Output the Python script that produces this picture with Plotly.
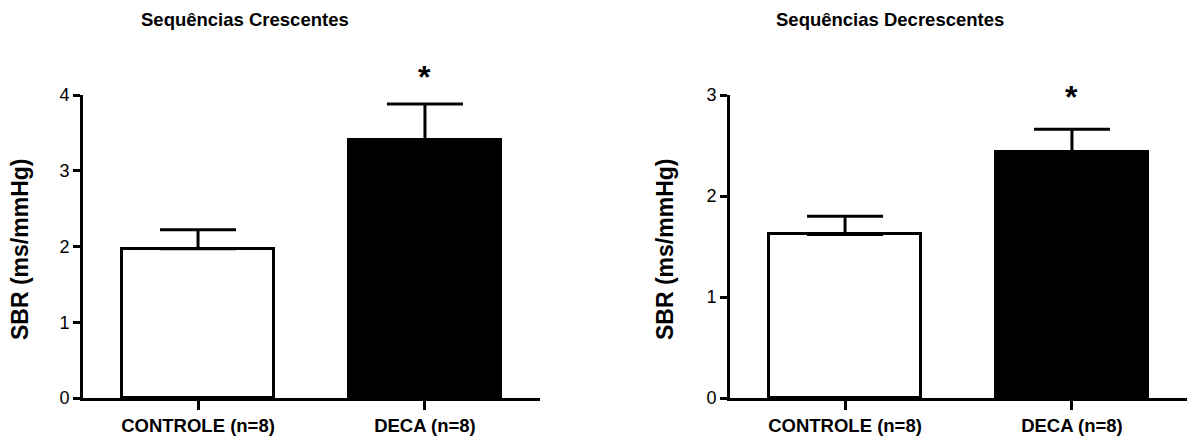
import plotly.graph_objects as go

W, H = 1187, 448

categories = ["CONTROLE (n=8)", "DECA (n=8)"]
cresc_means = [1.97, 3.40]
cresc_sem = [0.25, 0.48]
decresc_means = [1.62, 2.44]
decresc_sem = [0.18, 0.22]
bar_colors = ["white", "black"]
titles = ["Sequências Crescentes", "Sequências Decrescentes"]
y_title = "SBR (ms/mmHg)"
cresc_ticks = [0, 1, 2, 3, 4]
decresc_ticks = [0, 1, 2, 3]
star_label = "*"

FONT = "Arial, 'Liberation Sans', sans-serif"

fig = go.Figure()
x_idx = [0, 1]

fig.add_trace(go.Bar(
    x=x_idx, y=cresc_means, width=0.67,
    marker=dict(color=bar_colors, line=dict(color="black", width=3)),
    error_y=dict(type="data", symmetric=False, array=cresc_sem,
                 arrayminus=[0, 0], color="black", thickness=3, width=38),
    xaxis="x", yaxis="y", showlegend=False, hoverinfo="skip"))

fig.add_trace(go.Bar(
    x=x_idx, y=decresc_means, width=0.67,
    marker=dict(color=bar_colors, line=dict(color="black", width=3)),
    error_y=dict(type="data", symmetric=False, array=decresc_sem,
                 arrayminus=[0, 0], color="black", thickness=3, width=38),
    xaxis="x2", yaxis="y2", showlegend=False, hoverinfo="skip"))

ydom = [50 / H, 353 / H]
line_common = dict(showgrid=False, zeroline=False, showline=True,
                   linecolor="black", linewidth=3, ticks="outside",
                   tickwidth=3, tickcolor="black", automargin=False)
ytickfont = dict(family=FONT, size=18, color="black")
xtickfont = dict(family=FONT, size=18.5, color="black", weight="bold")

fig.update_layout(
    template="none",
    width=W, height=H,
    margin=dict(l=0, r=0, t=0, b=0, pad=0),
    paper_bgcolor="white", plot_bgcolor="white",
    bargap=0,
    xaxis=dict(domain=[83 / W, 540 / W], range=[-0.507, 1.507],
               tickmode="array", tickvals=x_idx, ticktext=categories,
               anchor="y", ticklen=9, tickfont=xtickfont, **line_common),
    yaxis=dict(domain=ydom, range=[0, 4], tickmode="array", tickvals=cresc_ticks,
               anchor="x", ticklen=7, tickfont=ytickfont, **line_common),
    xaxis2=dict(domain=[730 / W, 1.0], range=[-0.507, 1.507],
                tickmode="array", tickvals=x_idx, ticktext=categories,
                anchor="y2", ticklen=9, tickfont=xtickfont, **line_common),
    yaxis2=dict(domain=ydom, range=[0, 3], tickmode="array", tickvals=decresc_ticks,
                anchor="x2", ticklen=7, tickfont=ytickfont, **line_common),
)

ann = []
title_font = dict(family=FONT, size=18.5, color="black", weight="bold")
ann.append(dict(text=titles[0], x=245 / W, y=1 - 20 / H, xref="paper", yref="paper",
                showarrow=False, xanchor="center", yanchor="middle", font=title_font))
ann.append(dict(text=titles[1], x=890 / W, y=1 - 20 / H, xref="paper", yref="paper",
                showarrow=False, xanchor="center", yanchor="middle", font=title_font))
for xc in [20, 665]:
    ann.append(dict(text=y_title, x=xc / W, y=1 - 250 / H, xref="paper", yref="paper",
                    showarrow=False, xanchor="center", yanchor="middle", textangle=-90,
                    font=dict(family=FONT, size=23, color="black", weight="bold")))
# significance stars anchored at the top of the DECA error bar
star_font = dict(family=FONT, size=32, color="black", weight="bold")
for xr, yr, m, s, off in [("x", "y", cresc_means, cresc_sem, -27),
                          ("x2", "y2", decresc_means, decresc_sem, -32)]:
    ann.append(dict(text=star_label, x=1, y=m[1] + s[1], xref=xr, yref=yr,
                    showarrow=True, arrowcolor="rgba(0,0,0,0)", arrowwidth=0.1,
                    ax=0, ay=off, axref="pixel", ayref="pixel",
                    xanchor="center", yanchor="middle", font=star_font))
fig.update_layout(annotations=ann)

fig.write_html("out.html")
